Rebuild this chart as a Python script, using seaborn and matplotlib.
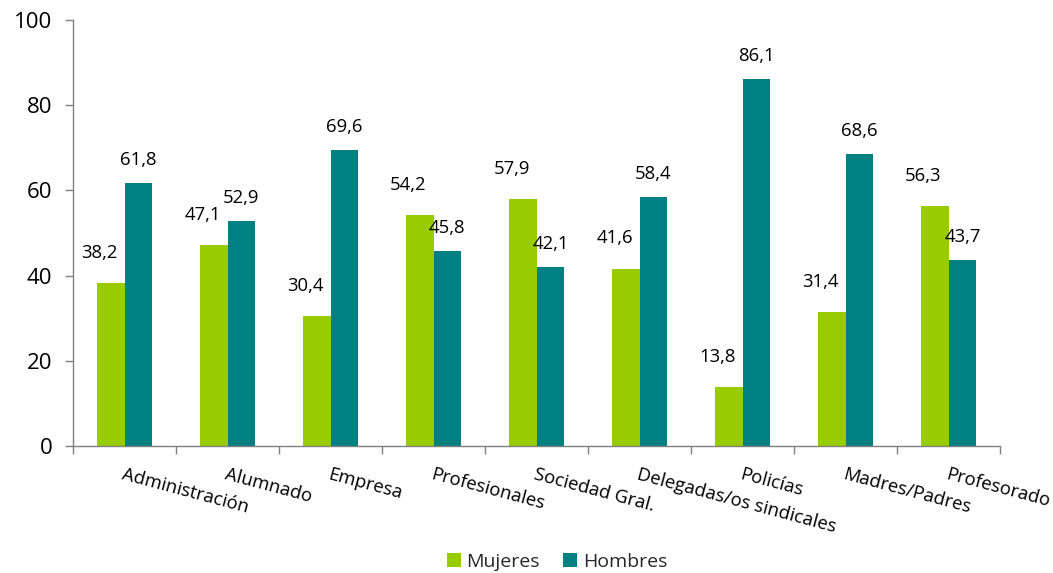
import matplotlib
matplotlib.use("Agg")
import matplotlib.pyplot as plt
from matplotlib.patches import Patch
import seaborn as sns
import pandas as pd
import numpy as np

categories = ["Administración", "Alumnado", "Empresa", "Profesionales", "Sociedad Gral.",
              "Delegadas/os sindicales", "Policías", "Madres/Padres", "Profesorado"]
mujeres = [38.2, 47.1, 30.4, 54.2, 57.9, 41.6, 13.8, 31.4, 56.3]
hombres = [61.8, 52.9, 69.6, 45.8, 42.1, 58.4, 86.1, 68.6, 43.7]
series = ["Mujeres", "Hombres"]
colors = {"Mujeres": "#99CC00", "Hombres": "#008080"}
yticks = [0, 20, 40, 60, 80, 100]

df = pd.DataFrame({
    "cat": categories * 2,
    "serie": ["Mujeres"] * len(categories) + ["Hombres"] * len(categories),
    "val": mujeres + hombres,
})

sns.set_theme(style="white")
plt.rcParams["font.family"] = ["Open Sans", "DejaVu Sans"]

fig = plt.figure(figsize=(10.53, 5.73), dpi=100)
ax = fig.add_axes([73 / 1053, (573 - 446) / 573, 927 / 1053, 426 / 573])

sns.barplot(data=df, x="cat", y="val", hue="serie", hue_order=series, order=categories,
            palette=colors, width=0.54, ax=ax, legend=False, saturation=1, errorbar=None,
            edgecolor="none", linewidth=0)

ax.set_xlim(-0.5, len(categories) - 0.5)
ax.set_ylim(0, 100)
ax.set_yticks(yticks)
ax.set_yticklabels([str(t) for t in yticks], fontsize=16, color="black")
ax.set_xlabel("")
ax.set_ylabel("")

for s in ["top", "right"]:
    ax.spines[s].set_visible(False)
for s in ["left", "bottom"]:
    ax.spines[s].set_color("#808080")
    ax.spines[s].set_linewidth(1.0)

ax.tick_params(axis="y", which="major", direction="out", length=6, width=1,
               color="#808080", pad=9, left=True)
# x: tick marks at category boundaries (minor), labels at centers (major, no marks)
ax.set_xticks(np.arange(len(categories)))
ax.set_xticks(np.arange(-0.5, len(categories)), minor=True)
ax.tick_params(axis="x", which="minor", direction="out", length=6, width=1,
               color="#808080", bottom=True)
ax.tick_params(axis="x", which="major", length=0, pad=14)
ax.set_xticklabels(categories, rotation=-15, ha="left", va="top",
                   rotation_mode="anchor", fontsize=13.3, color="black")

# value labels
for i, c in enumerate(categories):
    m = mujeres[i]
    h = hombres[i]
    ax.annotate(f"{m:.1f}".replace(".", ","), xy=(i - 0.135, m), xytext=(-8, 22),
                textcoords="offset points", ha="center", va="center", fontsize=13.3, color="black")
    ax.annotate(f"{h:.1f}".replace(".", ","), xy=(i + 0.135, h), xytext=(0, 16.5),
                textcoords="offset points", ha="center", va="center", fontsize=13.3, color="black")

handles = [Patch(facecolor=colors[s], edgecolor="none", label=s) for s in series]
fig.legend(handles=handles, loc="center", bbox_to_anchor=(557 / 1053, 1 - 562 / 573),
           ncol=2, frameon=False, fontsize=14, handlelength=0.7, handleheight=0.7,
           handletextpad=0.3, columnspacing=1.2)

fig.savefig("out.png", dpi=100, facecolor="white")
